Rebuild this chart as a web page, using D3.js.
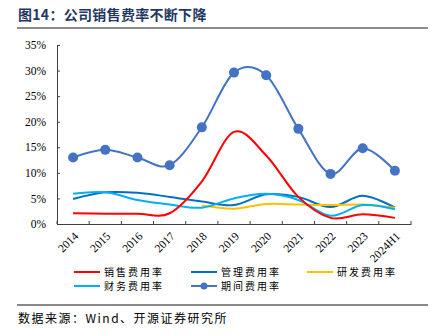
<!DOCTYPE html>
<html><head><meta charset="utf-8">
<script src="https://cdn.jsdelivr.net/npm/d3@7"></script>
<style>body{margin:0;background:#fff}svg{display:block}</style>
</head><body><svg id="c" width="437" height="336"></svg>
<script>
const categories = ["2014","2015","2016","2017","2018","2019","2020","2021","2022","2023","2024H1"];
const salesRate   = [2.1, 2.0, 2.0, 2.1, 8.3, 18.0, 13.4, 5.3, 1.2, 1.9, 1.2];
const mgmtRate    = [4.9, 6.2, 6.1, 5.3, 4.4, 3.7, 5.8, 5.3, 3.3, 5.5, 3.2];
const rdRate      = [null, null, null, null, 3.6, 3.0, 3.9, 3.8, 3.7, 3.8, 3.2];
const finRate     = [5.9, 6.2, 4.7, 3.8, 3.2, 5.0, 5.9, 4.7, 1.6, 3.7, 2.9];
const periodRate  = [13.0, 14.5, 13.0, 11.5, 18.9, 29.6, 29.1, 18.6, 9.8, 14.8, 10.4];
const yTicks = [0, 5, 10, 15, 20, 25, 30, 35];
const seriesNames = ["销售费用率","管理费用率","研发费用率","财务费用率","期间费用率"];
const colors = ["#FF0000","#0070C0","#FFC000","#00B0F0","#4472C4"];

const svg = d3.select("#c");
const m = {l:57, r:411, t:45, b:224};
const x = d3.scaleBand().domain(categories).range([m.l, m.r]);
const y = d3.scaleLinear().domain([0, 35]).range([m.b, m.t]);
const serif = "'Liberation Serif','Times New Roman',serif";
const cjk = "'Noto Sans CJK SC',sans-serif";

// title
svg.append("text").attr("x",18).attr("y",20).attr("fill","#1F3864")
  .attr("font-family",cjk).attr("font-weight","bold").attr("font-size",14)
  .attr("letter-spacing",0.3).text("图14：公司销售费率不断下降");
svg.append("line").attr("x1",17).attr("x2",428).attr("y1",28).attr("y2",28)
  .attr("stroke","#8c8c8c").attr("stroke-width",2);

// axes
const yAxis = d3.axisLeft(y).tickValues(yTicks).tickSize(-3).tickPadding(11).tickFormat(d=>d+"%");
const gy = svg.append("g").attr("transform",`translate(${m.l},0)`).call(yAxis);
gy.selectAll("text").attr("font-family",serif).attr("font-size",11.5).attr("fill","#000");
gy.selectAll("line,path").attr("stroke","#404040");

const xAxis = d3.axisBottom(x).tickSize(0).tickFormat("");
const gx = svg.append("g").attr("transform",`translate(0,${m.b})`).call(xAxis);
gx.select("path").attr("stroke","#404040");
const bounds = categories.map(c=>x(c)).concat([m.r]);
gx.selectAll(".itick").data(bounds).enter().append("line")
  .attr("x1",d=>d).attr("x2",d=>d).attr("y1",0).attr("y2",-3).attr("stroke","#404040");
svg.append("g").selectAll("text").data(categories).enter().append("text")
  .attr("transform",d=>`translate(${x(d)+x.bandwidth()/2+3},${m.b+10}) rotate(-45)`)
  .attr("text-anchor","end").attr("dy","0.35em")
  .attr("font-family",serif).attr("font-size",11.5).attr("fill","#000").text(d=>d);

// lines
const cx = d=>x(d)+x.bandwidth()/2;
const line = d3.line().defined(d=>d.v!=null).x(d=>cx(d.c)).y(d=>y(d.v)).curve(d3.curveCatmullRom.alpha(0));
const all = [salesRate, mgmtRate, rdRate, finRate, periodRate];
const order = [1,2,3,0,4];
order.forEach(i=>{
  const data = categories.map((c,j)=>({c, v: all[i][j]}));
  svg.append("path").datum(data).attr("d",line).attr("fill","none")
    .attr("stroke",colors[i]).attr("stroke-width",2);
  if(i===4){
    svg.append("g").selectAll("circle").data(data).enter().append("circle")
      .attr("cx",d=>cx(d.c)).attr("cy",d=>y(d.v)).attr("r",5).attr("fill",colors[i]);
  }
});

// legend
const legPos = [[74,272],[191,272],[307,272],[74,286],[191,286]];
seriesNames.forEach((n,i)=>{
  const [lx,ly] = legPos[i];
  svg.append("line").attr("x1",lx).attr("x2",lx+26).attr("y1",ly).attr("y2",ly)
    .attr("stroke",colors[i]).attr("stroke-width",2);
  if(i===4) svg.append("circle").attr("cx",lx+13).attr("cy",ly).attr("r",3.5).attr("fill",colors[i]);
  svg.append("text").attr("x",lx+30).attr("y",ly).attr("dy","0.35em")
    .attr("font-family",cjk).attr("font-size",10).attr("letter-spacing",2).attr("fill","#000").text(n);
});

// footer
svg.append("line").attr("x1",17).attr("x2",428).attr("y1",305).attr("y2",305)
  .attr("stroke","#606060").attr("stroke-width",1.5);
svg.append("text").attr("x",18).attr("y",323).attr("font-family",cjk).attr("font-size",12)
  .attr("letter-spacing",1.5).attr("fill","#000").text("数据来源：Wind、开源证券研究所");
</script></body></html>
